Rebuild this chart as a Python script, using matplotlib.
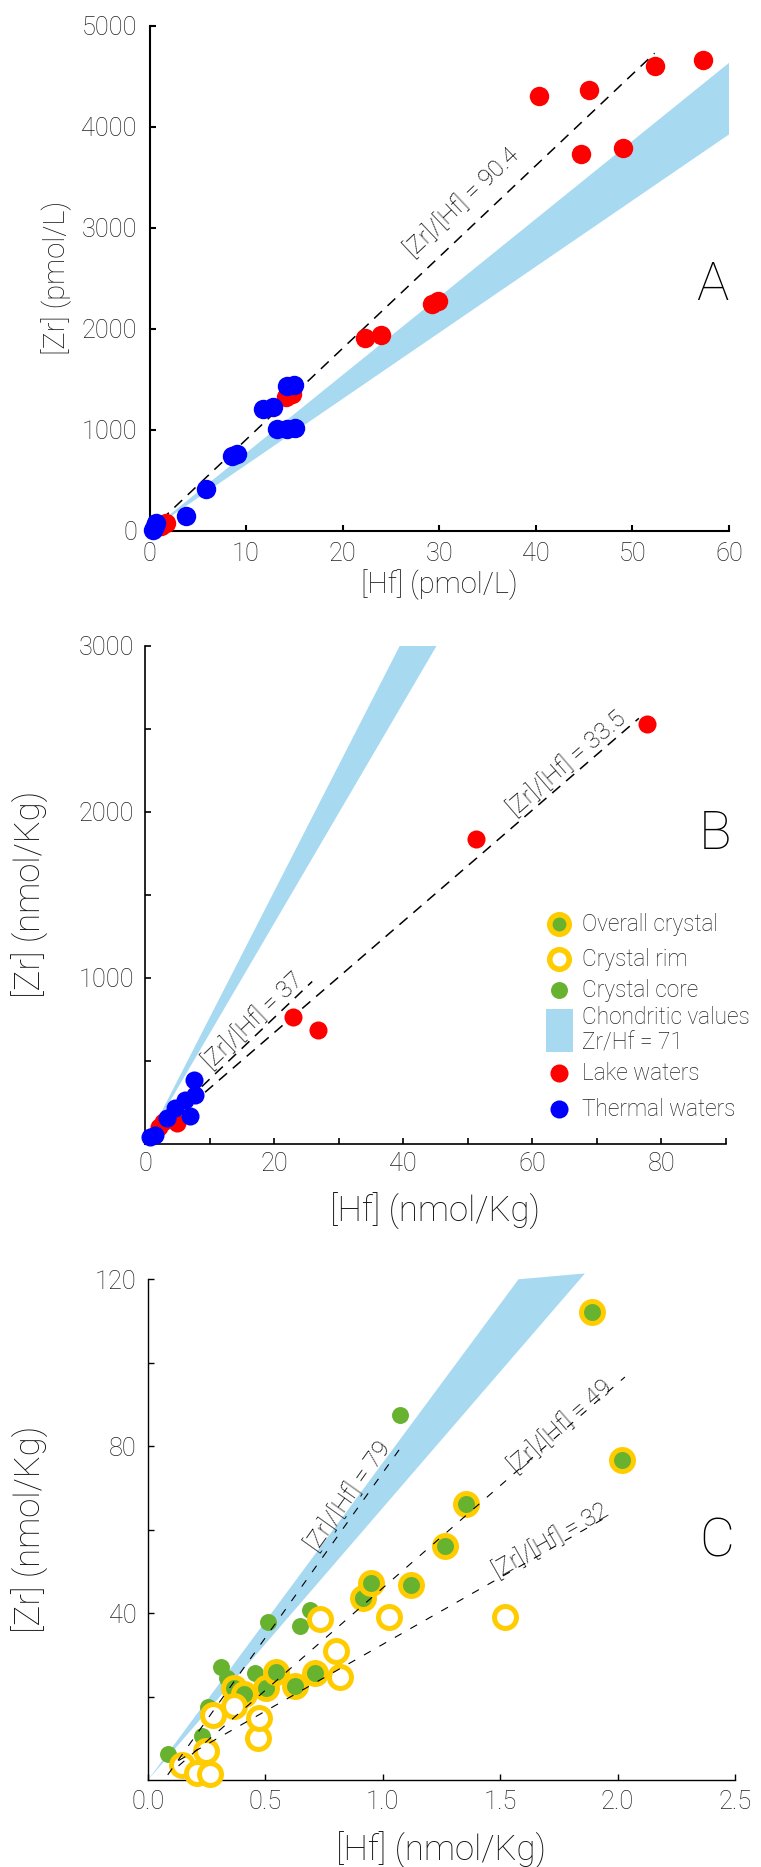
import numpy as np
import matplotlib
matplotlib.use("Agg")
import matplotlib.pyplot as plt
from matplotlib import font_manager as fm
from matplotlib.patches import Polygon, Rectangle

# ---------------------------------------------------------------- data
# Panel A  ([Hf], [Zr] in pmol/L)
a_lake_hf = [1.2, 1.7, 14.1, 14.8, 22.3, 24.0, 29.2, 29.9, 40.3, 44.7, 45.5, 49.0, 52.3, 57.3]
a_lake_zr = [45, 76, 1327, 1351, 1907, 1942, 2243, 2277, 4307, 3733, 4363, 3789, 4604, 4657]
a_therm_hf = [0.4, 0.6, 0.7, 3.8, 5.9, 8.5, 9.1, 11.8, 12.8, 13.2, 14.2, 14.2, 15.0, 15.1]
a_therm_zr = [10, 45, 80, 150, 420, 744, 761, 1210, 1228, 1005, 1005, 1430, 1447, 1016]
a_ref_ratio = 90.4
a_ref_hf = [1.2, 52.3]
a_ref_label = "[Zr]/[Hf] = 90.4"
a_label_pos = [32.4, 3248]
a_chond_ratio = [77.2, 65.4]      # upper, lower edge of chondritic band
a_chond_hf_end = [60, 60]
a_xticks = [0, 10, 20, 30, 40, 50, 60]
a_yticks = [0, 1000, 2000, 3000, 4000, 5000]

# Panel B  (nmol/Kg)
b_lake_hf = [2.2, 2.8, 4.9, 22.9, 26.8, 51.3, 77.7]
b_lake_zr = [100, 134, 124, 762, 689, 1838, 2530]
b_therm_hf = [0.8, 1.55, 3.46, 4.65, 6.2, 6.9, 7.65, 7.75]
b_therm_zr = [44, 54, 154, 215, 265, 168, 385, 295]
b_ref_ratio = [33.5, 37.0]
b_ref_intercept = [0.0, 20.0]
b_ref_hf = [[9.3, 76.5], [8.8, 25.9]]
b_ref_label = ["[Zr]/[Hf] = 33.5", "[Zr]/[Hf] = 37"]
b_label_pos = [[65.4, 2289], [16.7, 740]]
b_chond_ratio = [76.0, 66.4]
b_chond_hf_end = [39.5, 45.2]
b_xticks = [0, 20, 40, 60, 80]
b_xminor = [10, 30, 50, 70, 90]
b_yticks = [1000, 2000, 3000]
b_yminor = [500, 1500, 2500]

# Panel C  (nmol/Kg)
c_core_hf = [0.084, 0.231, 0.254, 0.309, 0.337, 0.348, 0.405, 0.455, 0.509, 0.646, 0.688, 1.075]
c_core_zr = [6.2, 10.6, 17.6, 27.1, 24.4, 23.2, 20.8, 25.6, 37.8, 37.0, 40.7, 87.5]
c_overall_hf = [0.366, 0.408, 0.501, 0.547, 0.628, 0.710, 0.915, 0.951, 1.121, 1.264, 1.355, 1.893, 2.017]
c_overall_zr = [22.1, 20.5, 22.0, 25.9, 22.5, 25.6, 43.5, 47.1, 46.7, 56.0, 66.0, 112.0, 76.6]
c_rim_hf = [0.143, 0.207, 0.249, 0.263, 0.278, 0.365, 0.469, 0.473, 0.731, 0.802, 0.816, 1.026, 1.521]
c_rim_zr = [3.6, 1.6, 6.9, 1.4, 15.6, 17.8, 10.0, 14.8, 38.6, 31.0, 24.7, 39.1, 39.1]
c_ref_ratio = [79.0, 49.0, 32.0]
c_ref_intercept = [-5.4, -3.0, 0.5]
c_ref_hf = [[0.084, 1.071], [0.13, 2.031], [0.13, 1.97]]
c_ref_label = ["[Zr]/[Hf] = 79", "[Zr]/[Hf] = 49", "[Zr]/[Hf] = 32"]
c_label_pos = [[0.853, 68.0], [1.755, 84.7], [1.714, 57.3]]
c_chond_ratio = [76.0, 65.2]
c_chond_hf_end = [1.578, 1.861]
c_xticks = [0.0, 0.5, 1.0, 1.5, 2.0, 2.5]
c_xticklabels = ["0.0", "0.5", "1.0", "1.5", "2.0", "2.5"]
c_yticks = [40, 80, 120]
c_yminor = [20, 60, 100]

legend_labels = ["Overall crystal", "Crystal rim", "Crystal core",
                 "Chondritic values\nZr/Hf = 71", "Lake waters", "Thermal waters"]

# ---------------------------------------------------------------- style
RED, BLUE = "#FF0000", "#0000FF"
YELLOW, GREEN = "#FFCC00", "#67B22F"
BAND = "#A7D9F1"
TICK = "#222222"
LAB = "#111111"


def _wnum(w):
    if isinstance(w, (int, float)):
        return w
    return fm.weight_dict.get(str(w).lower(), 400)


def pick_font():
    avail = {}
    for f in fm.fontManager.ttflist:
        avail.setdefault(f.name, set()).add(_wnum(f.weight))
    for fam in ["Roboto", "Lato", "Open Sans", "Inter", "Noto Sans"]:
        if fam in avail and any(w <= 300 for w in avail[fam]):
            return fam, "light"
    for fam in ["Roboto", "Liberation Sans"]:
        if fam in avail:
            return fam, "normal"
    return "DejaVu Sans", "normal"


FAM, WEIGHT = pick_font()
plt.rcParams["font.family"] = [FAM, "DejaVu Sans"]
plt.rcParams["font.weight"] = WEIGHT
plt.rcParams["axes.labelweight"] = WEIGHT

W, H = 761, 1867
fig = plt.figure(figsize=(W / 100, H / 100), dpi=100)
fig.patch.set_facecolor("white")

A_box = (149.5, 25.7, 729.0, 531.0)
B_box = (145.0, 645.7, 726.0, 1144.0)
C_box = (148.0, 1279.0, 735.0, 1780.0)


def add_ax(box):
    l, t, r, b = box
    return fig.add_axes([l / W, 1 - b / H, (r - l) / W, (b - t) / H])


def frac(box, X, Y):
    l, t, r, b = box
    return (X - l) / (r - l), (b - Y) / (b - t)


def style(ax, lw, tick_fs, xpad, ypad):
    for s in ["top", "right"]:
        ax.spines[s].set_visible(False)
    for s in ["left", "bottom"]:
        ax.spines[s].set_linewidth(lw)
        ax.spines[s].set_color("black")
    ax.tick_params(which="both", direction="in", width=lw, color="black",
                   labelcolor=TICK, labelsize=tick_fs)
    ax.tick_params(which="major", length=4)
    ax.tick_params(which="minor", length=4)
    ax.tick_params(axis="x", pad=xpad)
    ax.tick_params(axis="y", pad=ypad)


def band(ax, ratios, hf_end, clip=True):
    hi, lo = ratios
    xh, xl = hf_end
    poly = Polygon([(0, 0), (xh, xh * hi), (xl, xl * lo)], closed=True,
                   facecolor=BAND, edgecolor="none", zorder=1, clip_on=clip)
    ax.add_patch(poly)


def ref_line(ax, ratio, intercept, hf, lw, dashes, z):
    x = np.array(hf, dtype=float)
    ax.plot(x, ratio * x + intercept, color="black", lw=lw, dashes=dashes, zorder=z)


def ref_text(ax, pos, ratio, label, fs):
    ax.text(pos[0], pos[1], label, rotation=np.degrees(np.arctan(ratio)),
            transform_rotates_text=True, rotation_mode="anchor",
            ha="center", va="center", fontsize=fs, color="#000000", zorder=6)


def letter(ax, x, y, s):
    ax.text(x, y, s, transform=ax.transAxes, fontsize=39,
            ha="center", va="baseline", color="black")


# ---------------------------------------------------------------- panel A
axA = add_ax(A_box)
band(axA, a_chond_ratio, a_chond_hf_end)
ref_line(axA, a_ref_ratio, 0.0, a_ref_hf, 1.1, (7, 5), 2)
ref_text(axA, a_label_pos, a_ref_ratio, a_ref_label, 17.5)
axA.plot(a_lake_hf, a_lake_zr, "o", ms=14, color=RED, mew=0, zorder=3, clip_on=False)
axA.plot(a_therm_hf, a_therm_zr, "o", ms=14, color=BLUE, mew=0, zorder=4, clip_on=False)
axA.set_xlim(0, 60)
axA.set_ylim(0, 5000)
axA.set_xticks(a_xticks)
axA.set_yticks(a_yticks)
style(axA, 1.5, 18.3, 8, 9)
axA.set_xlabel("[Hf] (pmol/L)", fontsize=21, color=LAB)
axA.set_ylabel("[Zr] (pmol/L)", fontsize=21, color=LAB)
axA.xaxis.set_label_coords(0.5, -0.075)
axA.yaxis.set_label_coords(-0.134, 0.5)
letter(axA, 0.9707, 0.457, "A")

# ---------------------------------------------------------------- panel B
axB = add_ax(B_box)
band(axB, b_chond_ratio, b_chond_hf_end)
for r, c, hf in zip(b_ref_ratio, b_ref_intercept, b_ref_hf):
    ref_line(axB, r, c, hf, 1.1, (7, 5), 2)
for pos, r, lab in zip(b_label_pos, b_ref_ratio, b_ref_label):
    ref_text(axB, pos, r, lab, 17.5)
axB.plot(b_lake_hf, b_lake_zr, "o", ms=13, color=RED, mew=0, zorder=3, clip_on=False)
axB.plot(b_therm_hf, b_therm_zr, "o", ms=13, color=BLUE, mew=0, zorder=4, clip_on=False)
axB.set_xlim(0, 90)
axB.set_ylim(0, 3000)
axB.set_xticks(b_xticks)
axB.set_xticks(b_xminor, minor=True)
axB.set_yticks(b_yticks)
axB.set_yticks(b_yminor, minor=True)
style(axB, 1.2, 18.3, 6, 8)
axB.set_xlabel("[Hf] (nmol/Kg)", fontsize=25, color=LAB)
axB.set_ylabel("[Zr] (nmol/Kg)", fontsize=25, color=LAB)
axB.xaxis.set_label_coords(0.5, -0.098)
axB.yaxis.set_label_coords(-0.166, 0.5)
letter(axB, 0.981, 0.593, "B")

# legend (drawn by hand in panel B)
mx = frac(B_box, 559, 0)[0]
tx = frac(B_box, 582.3, 0)[0]
rows = [924, 959.3, 990, 1030.3, 1073.3, 1109.3]
ry = [frac(B_box, 0, y)[1] for y in rows]
kw = dict(transform=axB.transAxes, clip_on=False, zorder=7)
axB.plot([mx], [ry[0]], "o", ms=14, mfc=GREEN, mec=YELLOW, mew=4, **kw)
axB.plot([mx], [ry[1]], "o", ms=14, mfc="white", mec=YELLOW, mew=4, **kw)
axB.plot([mx], [ry[2]], "o", ms=12.2, mfc=GREEN, mew=0, **kw)
r0x, r0y = frac(B_box, 546, 1051.7)
r1x, r1y = frac(B_box, 572.7, 1009)
axB.add_patch(Rectangle((r0x, r0y), r1x - r0x, r1y - r0y, facecolor=BAND,
                        edgecolor="none", transform=axB.transAxes, clip_on=False))
axB.plot([mx], [ry[4]], "o", ms=13, mfc=RED, mew=0, **kw)
axB.plot([mx], [ry[5]], "o", ms=13, mfc=BLUE, mew=0, **kw)
for lab, y in zip(legend_labels, ry):
    axB.text(tx, y, lab, transform=axB.transAxes, fontsize=16.3, color=TICK,
             ha="left", va="center", linespacing=1.1)

# ---------------------------------------------------------------- panel C
axC = add_ax(C_box)
band(axC, c_chond_ratio, c_chond_hf_end, clip=False)
axC.plot(c_core_hf, c_core_zr, "o", ms=12.2, mfc=GREEN, mew=0, zorder=3, clip_on=False)
axC.plot(c_overall_hf, c_overall_zr, "o", ms=15.8, mfc=GREEN, mec=YELLOW, mew=3.6,
         zorder=4, clip_on=False)
axC.plot(c_rim_hf, c_rim_zr, "o", ms=15.8, mfc="white", mec=YELLOW, mew=3.6,
         zorder=5, clip_on=False)
for r, c, hf in zip(c_ref_ratio, c_ref_intercept, c_ref_hf):
    ref_line(axC, r, c, hf, 0.8, (7, 9), 6)
for pos, r, lab in zip(c_label_pos, c_ref_ratio, c_ref_label):
    ref_text(axC, pos, r, lab, 17.5)
axC.set_xlim(0, 2.5)
axC.set_ylim(0, 120)
axC.set_xticks(c_xticks)
axC.set_xticklabels(c_xticklabels)
axC.set_yticks(c_yticks)
axC.set_yticks(c_yminor, minor=True)
style(axC, 1.0, 18.3, 7, 8)
axC.set_xlabel("[Hf] (nmol/Kg)", fontsize=25, color=LAB)
axC.set_ylabel("[Zr] (nmol/Kg)", fontsize=25, color=LAB)
axC.xaxis.set_label_coords(0.5, -0.103)
axC.yaxis.set_label_coords(-0.169, 0.5)
letter(axC, 0.9685, 0.447, "C")

fig.savefig("out.png", dpi=100, facecolor="white")
